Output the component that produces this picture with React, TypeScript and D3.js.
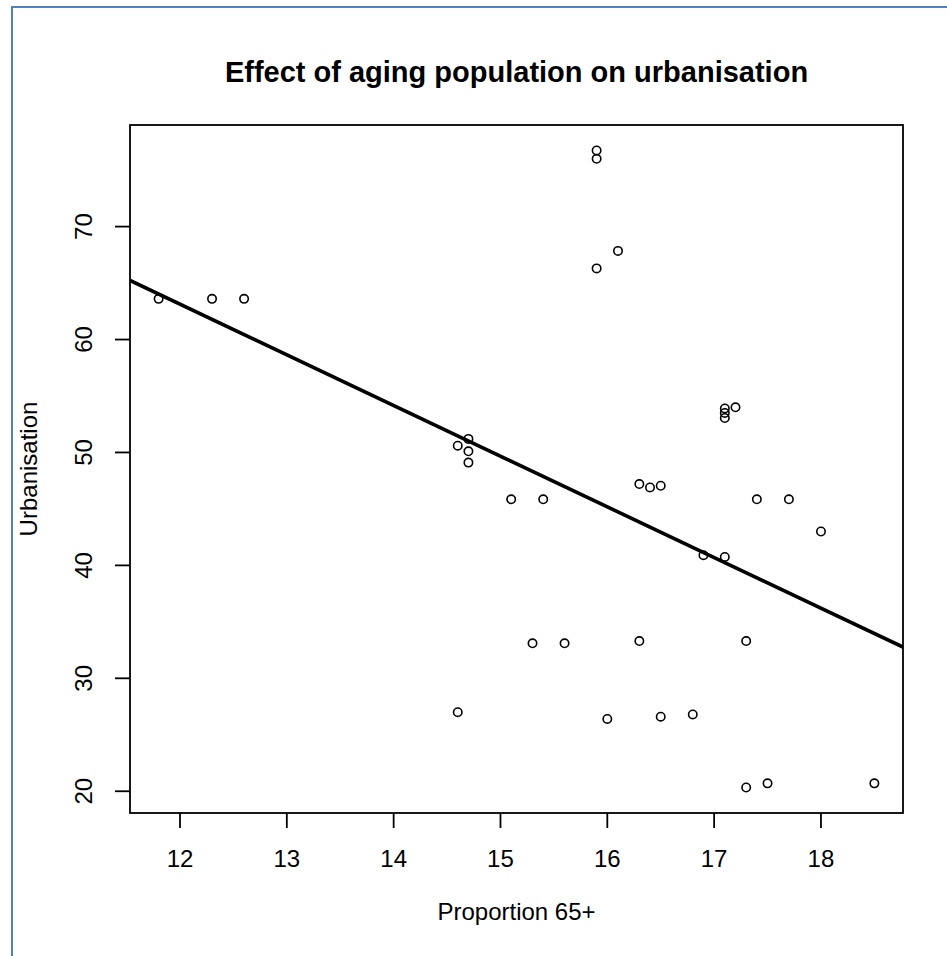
import React from "react";
import * as d3 from "d3";

const proportion65 = [
  11.8, 12.3, 12.6, 15.9, 15.9, 15.9, 16.1, 17.1, 17.1, 17.1, 17.2, 14.7,
  14.6, 14.7, 14.7, 15.1, 15.4, 16.3, 16.4, 16.5, 17.4, 17.7, 18.0, 16.9,
  17.1, 14.6, 15.3, 15.6, 16.3, 17.3, 16.0, 16.5, 16.8, 17.3, 17.5, 18.5,
];
const urbanisation = [
  63.6, 63.6, 63.6, 76.74, 76.0, 66.3, 67.85, 53.9, 53.5, 53.05, 54.0, 51.2,
  50.6, 50.1, 49.1, 45.85, 45.85, 47.2, 46.9, 47.05, 45.85, 45.85, 43.0, 40.9,
  40.75, 27.0, 33.1, 33.1, 33.3, 33.3, 26.4, 26.6, 26.8, 20.33, 20.7, 20.7,
];
const xTicks = [12, 13, 14, 15, 16, 17, 18];
const yTicks = [20, 30, 40, 50, 60, 70];
// fitted line: intercept, slope
const fitCoef = [116.96, -4.486];

const title = "Effect of aging population on urbanisation";
const xLabel = "Proportion 65+";
const yLabel = "Urbanisation";

function padded(vals: number[]): [number, number] {
  const [a, b] = d3.extent(vals) as [number, number];
  const p = (b - a) * 0.04;
  return [a - p, b + p];
}

export default function App() {
  const W = 947;
  const H = 956;
  const left = 130, right = 903, top = 125, bottom = 813;
  const x = d3.scaleLinear().domain(padded(proportion65)).range([left, right]);
  const y = d3.scaleLinear().domain(padded(urbanisation)).range([bottom, top]);
  const font = "'Liberation Sans', Arial, sans-serif";
  const [x0, x1] = x.domain();
  const linePath = d3.line<number>()
    .x((d) => x(d))
    .y((d) => y(fitCoef[0] + fitCoef[1] * d))([x0, x1]);
  const tick = 15;
  return (
    <svg
      width={W}
      height={H}
      style={{ position: "absolute", left: 0, top: 0, background: "#fff" }}
      fontFamily={font}
    >
      <rect x={0} y={0} width={W} height={H} fill="#fff" />
      <line x1={12} y1={7} x2={12} y2={H} stroke="#4f81bd" strokeWidth={2} />
      <line x1={11} y1={7} x2={W} y2={7} stroke="#4f81bd" strokeWidth={2} />
      <defs>
        <clipPath id="plotClip">
          <rect x={left} y={top} width={right - left} height={bottom - top} />
        </clipPath>
      </defs>
      <text x={(left + right) / 2} y={82} textAnchor="middle" fontWeight="bold" fontSize={29} fill="#000">
        {title}
      </text>
      {xTicks.map((t) => (
        <g key={"x" + t}>
          <line x1={x(t)} x2={x(t)} y1={bottom} y2={bottom + tick} stroke="#000" strokeWidth={1.8} />
          <text x={x(t)} y={867} textAnchor="middle" fontSize={24} fill="#000">{t}</text>
        </g>
      ))}
      {yTicks.map((t) => (
        <g key={"y" + t}>
          <line x1={left - tick} x2={left} y1={y(t)} y2={y(t)} stroke="#000" strokeWidth={1.8} />
          <text transform={`translate(92,${y(t)}) rotate(-90)`} textAnchor="middle" fontSize={24} fill="#000">{t}</text>
        </g>
      ))}
      <text x={(left + right) / 2} y={920} textAnchor="middle" fontSize={24} fill="#000">{xLabel}</text>
      <text transform={`translate(37,${(top + bottom) / 2}) rotate(-90)`} textAnchor="middle" fontSize={24} fill="#000">
        {yLabel}
      </text>
      <g clipPath="url(#plotClip)">
        <path d={linePath || ""} fill="none" stroke="#000" strokeWidth={3.6} />
      </g>
      {proportion65.map((v, i) => (
        <circle key={i} cx={x(v)} cy={y(urbanisation[i])} r={4.2} fill="none" stroke="#000" strokeWidth={1.6} />
      ))}
      <rect x={left} y={top} width={right - left} height={bottom - top} fill="none" stroke="#000" strokeWidth={1.8} />
    </svg>
  );
}
